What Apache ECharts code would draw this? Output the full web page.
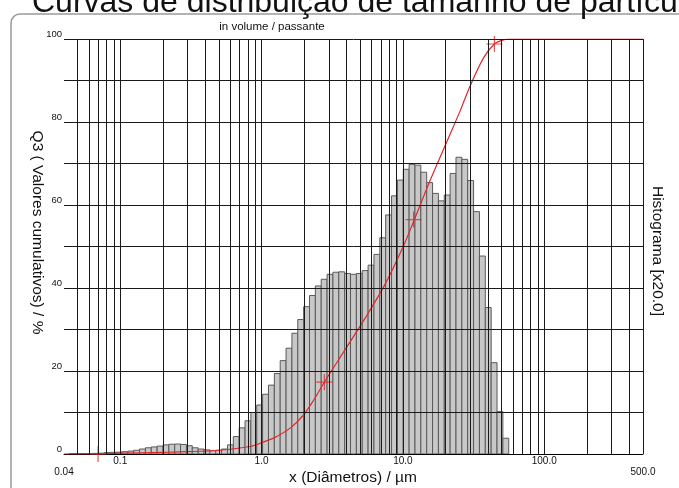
<!DOCTYPE html>
<html><head><meta charset="utf-8">
<script src="https://cdn.jsdelivr.net/npm/echarts@6/dist/echarts.min.js"></script>
<style>html,body{margin:0;padding:0;background:#fff}#c{width:679px;height:488px}</style>
</head><body><div id="c"></div>
<script>
// Histogram (displayed scale, x20) per size class
const histValues = [
  0.1, 0.1, 0.1, 0.1, 0.15, 0.2, 0.35, 0.4, 0.45, 0.55,
  0.7, 0.9, 1.2, 1.5, 1.7, 1.9, 2.2, 2.35, 2.4, 2.3,
  2.0, 1.5, 1.2, 1.0, 0.8, 0.9, 1.2, 2.2, 4.2, 6.3,
  8.0, 10.0, 11.8, 14.4, 16.6, 19.4, 22.5, 25.5, 29.1, 32.4,
  35.5, 38.2, 40.5, 42.1, 43.3, 43.8, 43.9, 43.5, 43.3, 43.5,
  44.2, 45.5, 48.1, 52.1, 57.6, 62.2, 66.0, 68.6, 69.8, 69.6,
  67.9, 65.4, 62.8, 61.0, 62.4, 67.6, 71.5, 71.0, 65.9, 58.4,
  47.7, 35.3, 22.0, 10.2, 3.8
];
// size classes: geometric grid between these limits (µm)
const histFirstEdge = 0.04356;
const histLastEdge = 56.1;

// cumulative curve Q3 (%)
const cumDiameters = [0.04, 0.07, 0.1, 0.2, 0.3, 0.5, 0.83, 1.0, 1.244, 1.6, 1.98, 2.33, 2.78, 3.91, 5.42, 7.51, 10, 11.9, 15.63, 20.6, 25.5, 30.0, 37.3, 44.4, 51.4, 56.1, 500];
const cumValues    = [0,    0.05, 0.2, 0.4, 0.55, 0.9, 1.8,  2.7, 4.0,   6.3, 9.4,  12.9, 17.3, 25.2, 32.8, 41.0, 49.8, 56.0, 66.0, 75.5, 82.8, 88.8, 95.5, 98.8, 99.8, 100, 100];

// marked points on the curve
const markerDiameters = [0.0697, 2.78, 11.9, 44.4];
const markerValues = [0, 17.3, 56.5, 98.8];

// grid lines
const gridDiameters = [0.05,0.06,0.07,0.08,0.09,0.1,0.2,0.3,0.4,0.5,0.6,0.7,0.8,0.9,1,2,3,4,5,6,7,8,9,10,20,30,40,50,60,70,80,90,100,200,300,400,500];
const gridPercents = [10,20,30,40,50,60,70,80,90,100];

const titleText = 'Curvas de distribuição de tamanho de partículas';
const subtitleText = 'in volume / passante';
const xName = 'x (Diâmetros) / µm';
const yName = 'Q3 ( Valores cumulativos) / %';
const y2Name = 'Histograma [x20.0]';

const FONT = '"Liberation Sans", Arial, Helvetica, sans-serif';
const n = histValues.length;
const ratio = Math.pow(histLastEdge / histFirstEdge, 1 / n);
const histData = histValues.map((v, i) => [histFirstEdge * Math.pow(ratio, i), histFirstEdge * Math.pow(ratio, i + 1), v]);

const chart = echarts.init(document.getElementById('c'), null, {renderer: 'canvas'});
chart.setOption({
  animation: false,
  backgroundColor: '#fff',
  grid: {left: 64, right: 36, top: 39, bottom: 34},
  xAxis: {
    type: 'log', logBase: 10, min: 0.04, max: 500,
    axisLine: {show: true, lineStyle: {color: '#000', width: 1}},
    axisTick: {show: false},
    splitLine: {show: false},
    axisLabel: {
      fontSize: 10, color: '#111', fontFamily: FONT, margin: 2, lineHeight: 10.5,
      showMinLabel: true, showMaxLabel: true,
      formatter: function (v) {
        if (Math.abs(v - 0.04) < 1e-6) return '\n0.04';
        if (Math.abs(v - 500) < 1e-3) return '\n500.0';
        return (+v).toFixed(1);
      }
    }
  },
  yAxis: {
    type: 'value', min: 0, max: 100, interval: 10,
    axisLine: {show: false}, axisTick: {show: false}, splitLine: {show: false},
    axisLabel: {
      fontSize: 9.5, color: '#111', fontFamily: FONT, margin: 2, verticalAlign: 'bottom',
      formatter: function (v) { return v % 20 === 0 ? String(v) : ''; }
    }
  },
  graphic: [
    {type: 'rect', z: -10, silent: true, shape: {x: 11, y: 14, width: 720, height: 520, r: 9},
      style: {fill: 'none', stroke: '#9a9a9a', lineWidth: 1.5}},
    {type: 'text', silent: true, x: 32, y: -13,
      style: {text: titleText, fontSize: 32, fontFamily: FONT, fill: '#111', textAlign: 'left', textVerticalAlign: 'top'}},
    {type: 'text', silent: true, x: 272, y: 26.5,
      style: {text: subtitleText, fontSize: 11.5, fontFamily: FONT, fill: '#111', textAlign: 'center', textVerticalAlign: 'middle'}},
    {type: 'text', silent: true, x: 353, y: 477.5,
      style: {text: xName, fontSize: 15.5, fontFamily: FONT, fill: '#111', textAlign: 'center', textVerticalAlign: 'middle'}},
    {type: 'text', silent: true, x: 37, y: 232.5, rotation: -Math.PI / 2,
      style: {text: yName, fontSize: 15.5, fontFamily: FONT, fill: '#111', textAlign: 'center', textVerticalAlign: 'middle'}},
    {type: 'text', silent: true, x: 657, y: 251, rotation: -Math.PI / 2,
      style: {text: y2Name, fontSize: 15.5, fontFamily: FONT, fill: '#111', textAlign: 'center', textVerticalAlign: 'middle'}}
  ],
  series: [
    {
      type: 'custom', z: 1, silent: true, clip: true,
      data: histData,
      encode: {x: [0, 1], y: 2},
      renderItem: function (params, api) {
        const p0 = api.coord([api.value(0), 0]);
        const p1 = api.coord([api.value(1), api.value(2)]);
        return {
          type: 'rect',
          shape: {x: p0[0], y: p1[1], width: p1[0] - p0[0], height: p0[1] - p1[1]},
          style: {fill: '#c8c8c8', stroke: '#5a5a5a', lineWidth: 1}
        };
      }
    },
    {
      type: 'line', z: 2, silent: true, data: [], showSymbol: false,
      markLine: {
        silent: true, symbol: 'none', animation: false,
        label: {show: false},
        lineStyle: {color: '#1a1a1a', width: 1, type: 'solid'},
        emphasis: {disabled: true},
        data: gridDiameters.map(d => ({xAxis: d})).concat(gridPercents.map(p => ({yAxis: p})))
      }
    },
    {
      type: 'line', z: 3, silent: true, smooth: 0.3, showSymbol: false,
      data: cumDiameters.map((d, i) => [d, cumValues[i]]),
      lineStyle: {color: '#e0282a', width: 1.2}
    },
    {
      type: 'scatter', z: 4, silent: true,
      symbol: 'path://M0,7.4H16V8.6H0Z M7.4,0H8.6V16H7.4Z', symbolSize: 16,
      itemStyle: {color: '#e0282a'},
      data: markerDiameters.map((d, i) => [d, markerValues[i]])
    }
  ]
});
</script>
</body></html>
